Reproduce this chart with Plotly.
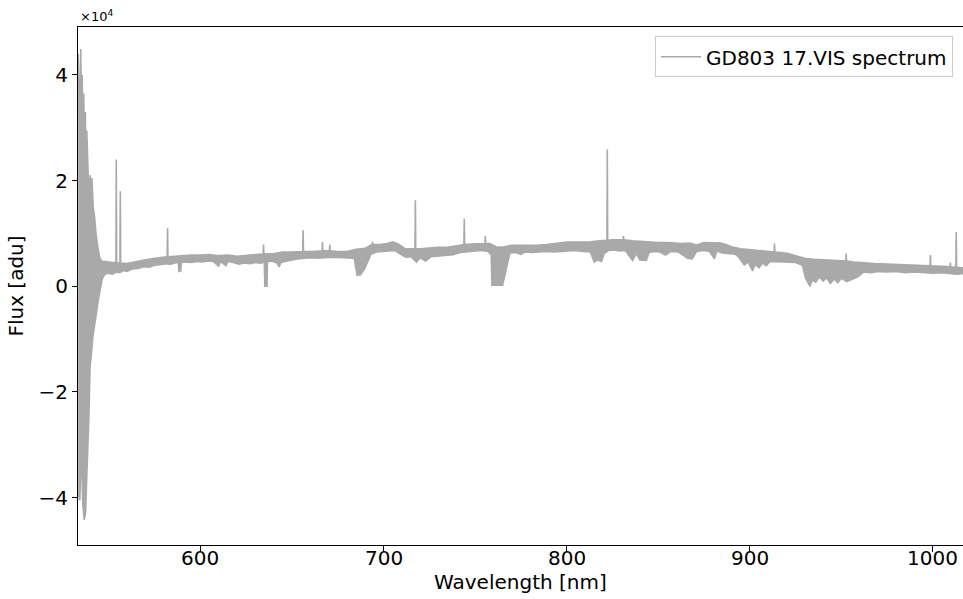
import plotly.graph_objects as go

# ---- Data ----
# Upper edge of the plotted spectrum band (wavelength nm, flux adu)
upper_wl = [533.3, 534.0, 534.7, 535.1, 535.5, 535.9, 536.3, 536.8, 537.2, 537.6, 538.0, 538.6, 539.2, 539.8,
            540.3, 540.8, 541.5, 542.3, 543.0, 544.0, 545.0, 546.0,
            547.5, 550, 552, 553.9, 554.1, 554.3, 556.1, 556.3, 556.5, 560, 565, 570, 575, 580, 581.9, 582.1,
            582.3, 586, 590, 595, 600, 605, 610, 615, 620, 625, 630, 634.3, 634.5, 634.7, 640, 645, 650,
            655.9, 656.1, 656.3, 661, 666.5, 666.7, 666.9, 670.5, 670.7, 670.9, 675, 680, 685, 690, 693.8,
            694.0, 694.2, 698, 702, 705, 708, 712, 717.2, 717.4, 717.6, 720, 725, 730, 735, 740, 743.9, 744.1,
            744.3, 748, 752, 755.4, 755.6, 755.8, 758, 762, 766, 770, 775, 780, 785, 789, 795, 800, 806, 812,
            818, 822.0, 822.2, 822.4, 825, 830.8, 831.0, 831.2, 836, 843, 850, 856, 862, 867, 871, 875, 880,
            883.3, 883.5, 883.7, 887, 890, 895, 900, 905, 910, 913.3, 913.5, 913.7, 917, 921, 926, 930, 935,
            940, 945, 950, 952.4, 952.6, 952.8, 957, 962, 968, 975, 982, 990, 998.4, 998.6, 998.8, 1005,
            1009.3, 1009.5, 1009.7, 1012.5, 1012.7, 1012.9, 1016.5]
upper_flux = [44000, 30000, 44900, 31000, 40000, 27000, 36500, 25000, 33000, 22000, 29500, 21500, 16000, 21000,
              15500, 20500, 15000, 13000, 10000, 7500, 5500, 4800,
              4700, 4600, 4500, 4500, 24000, 4500, 4400, 18000, 4400, 4300, 4700, 5000, 5300, 5550, 5600, 11000,
              5600, 5700, 5800, 5900, 5900, 6000, 5800, 5900, 5700, 5900, 6000, 6100, 7900, 6100, 6200, 6500, 6500,
              6600, 10600, 6600, 6600, 6700, 8400, 6700, 6700, 7900, 6700, 6600, 6600, 7000, 7200, 7900,
              8400, 7900, 7900, 8100, 8400, 8000, 7100, 7100, 16300, 7100, 7100, 7300, 7400, 7400, 7600, 7900, 12800,
              7900, 8000, 8100, 8100, 9500, 8100, 8100, 7400, 7500, 7750, 7750, 7750, 7800, 7900, 8200, 8400, 8400, 8400,
              8600, 8700, 25900, 8700, 8800, 8800, 9500, 8800, 8600, 8400, 8300, 8300, 8100, 8200, 7800, 8300, 8200,
              8200, 8400, 8200, 7900, 7500, 7100, 6900, 6800, 6600, 6500, 8100, 6500, 6400, 6200, 5700, 5300, 5100,
              5000, 4900, 4900, 4800, 6200, 4800, 4600, 4400, 4300, 4200, 4100, 4000, 3900, 5900, 3900, 3800,
              3700, 4500, 3700, 3600, 10300, 3600, 3500]

# Lower edge of the plotted spectrum band (wavelength nm, flux adu)
lower_wl = [533.3, 534.2, 535.0, 535.8, 536.6, 537.3, 537.9, 538.6, 539.2, 539.8, 540.5, 541.3, 542.3, 543.3,
            544.3, 545.3, 546.3, 547.3, 548.5, 550, 552, 554, 556, 558, 560, 563, 566, 569, 572, 575, 578, 581,
            584, 587, 588.0, 588.3, 589.3, 589.6, 592, 595, 598, 601, 604, 607, 610, 611, 614, 615, 618, 621,
            624, 627, 630, 633, 634.9, 635.2, 636.4, 636.6, 639, 642, 643, 644, 647, 650, 653, 656, 660, 664,
            668, 672, 676, 680, 684, 685.6, 687.5, 689.8, 691.5, 693, 696, 700, 703, 706, 709, 712, 715, 718,
            720, 723, 726, 730, 734, 738, 742, 746, 750, 754, 757, 758.8, 759.2, 765, 766, 767.5, 769, 772,
            775, 777, 781, 785, 789, 793, 797, 801, 805, 809, 813, 815, 817, 819, 820.5, 823, 826, 829, 832,
            836, 838, 840, 843.5, 845, 848, 851, 854, 857, 861, 866, 868.5, 871, 875, 878, 880.7, 882, 885,
            889, 892, 894, 897, 899, 901.5, 903, 905, 907, 909, 911, 915, 920, 925, 928.7, 930.5, 932.9, 934,
            936, 938, 940, 942, 944, 946, 948, 950, 953, 956, 959, 962, 966, 970, 975, 980, 985, 990, 995,
            1000, 1005, 1010, 1013, 1016.5]
lower_flux = [-39000, -40500, -30000, -41000, -44200, -43000, -35000, -30000, -24000, -15000, -13000, -9500,
              -7500, -5000, -2500, -500, 1200, 2000, 2400, 2500, 2300, 2700, 2600, 3000, 2800, 3300, 3400, 3700,
              3600, 4000, 4100, 4300, 4200, 4500, 4400, 2800, 2900, 4500, 4600, 4500, 4700, 4600, 4800, 4700,
              3800, 4700, 3900, 4700, 4500, 4200, 4400, 4300, 4500, 4400, 4600, 0, 0, 4600, 4800, 4400, 3650,
              4500, 4700, 5000, 5200, 5300, 5400, 5300, 5400, 5500, 5400, 5400, 5300, 2100, 2200, 3400, 4600,
              6000, 6500, 6600, 6700, 6800, 6200, 5500, 5600, 4600, 5400, 4800, 5600, 5800, 5900, 6000, 6400,
              6600, 6700, 6800, 6600, 6000, 200, 200, 1500, 4000, 6300, 6400, 6050, 6500, 6400, 6500, 6600, 6500,
              6600, 6700, 6800, 6600, 6500, 4600, 5000, 4700, 6200, 6800, 6900, 6700, 6800, 4900, 6200, 5000,
              4900, 6400, 6600, 6500, 5900, 6600, 6500, 5300, 5200, 6600, 6800, 6600, 5200, 6700, 6300, 6200,
              6100, 5500, 4000, 4600, 2900, 4200, 3500, 4400, 3900, 4700, 4700, 4600, 4500, 4000, 1500, 0, 1200,
              800, 1800, 1000, 1600, 550, 1400, 700, 1500, 900, 1300, 1800, 2700, 2600, 2800, 2700, 2800, 2600,
              2700, 2600, 2500, 2600, 2400, 2300, 2400]

series_name = "GD803 17.VIS spectrum"
x_title = "Wavelength [nm]"
y_title = "Flux [adu]"
y_tick_values = [-40000, -20000, 0, 20000, 40000]
y_tick_labels = ["\u22124", "\u22122", "0", "2", "4"]
x_tick_values = [600, 700, 800, 900, 1000]
x_tick_labels = ["600", "700", "800", "900", "1000"]

# ---- Figure ----
color = "#a9a9a9"
poly_x = upper_wl + lower_wl[::-1]
poly_y = upper_flux + lower_flux[::-1]

fig = go.Figure()
fig.add_trace(go.Scatter(x=poly_x, y=poly_y, mode="lines", fill="toself", fillcolor=color,
                         line=dict(color=color, width=1.6), showlegend=False, hoverinfo="skip"))
fig.add_trace(go.Scatter(x=[None], y=[None], mode="lines", line=dict(color=color, width=1.6),
                         name=series_name))

font_family = "DejaVu Sans"
fs = 20
annotations = [
    dict(text="\u00d710<sup>4</sup>", xref="paper", yref="paper", x=0, y=1,
         xanchor="left", yanchor="bottom", yshift=1, showarrow=False,
         font=dict(family=font_family, size=13, color="black")),
    dict(text=x_title, xref="paper", yref="paper", x=0.5, y=0, xanchor="center",
         yanchor="middle", yshift=-37, showarrow=False,
         font=dict(family=font_family, size=fs, color="black")),
]
for tv, tt in zip(x_tick_values, x_tick_labels):
    annotations.append(dict(text=tt, xref="x", yref="paper", x=tv, y=0, xanchor="center",
                            yanchor="middle", yshift=-13, showarrow=False,
                            font=dict(family=font_family, size=fs, color="black")))

fig.update_layout(
    width=963, height=599,
    margin=dict(l=78, r=0, t=27, b=54),
    paper_bgcolor="white", plot_bgcolor="white",
    font=dict(family=font_family, size=fs, color="black"),
    showlegend=True,
    legend=dict(x=0.9887, xanchor="right", y=0.982, yanchor="top",
                bgcolor="white", bordercolor="#cccccc", borderwidth=1,
                font=dict(family=font_family, size=20, color="black"),
                itemwidth=40),
    xaxis=dict(range=[533.2, 1016.4], tickvals=x_tick_values, showticklabels=False,
               showgrid=False, zeroline=False, showline=True, linecolor="black", linewidth=1,
               mirror=True, ticks="outside", ticklen=6, tickwidth=1, tickcolor="black"),
    yaxis=dict(range=[-48960, 49080], tickvals=y_tick_values, ticktext=y_tick_labels,
               showgrid=False, zeroline=False, showline=True, linecolor="black", linewidth=1,
               mirror=True, ticks="outside", ticklen=5, tickwidth=1, tickcolor="black",
               tickfont=dict(size=fs),
               title=dict(text=y_title, font=dict(size=fs), standoff=9)),
    annotations=annotations,
)

fig.write_html("out.html", config={"displayModeBar": False},
               post_script="document.body.style.margin='0';document.body.style.overflow='hidden';")
